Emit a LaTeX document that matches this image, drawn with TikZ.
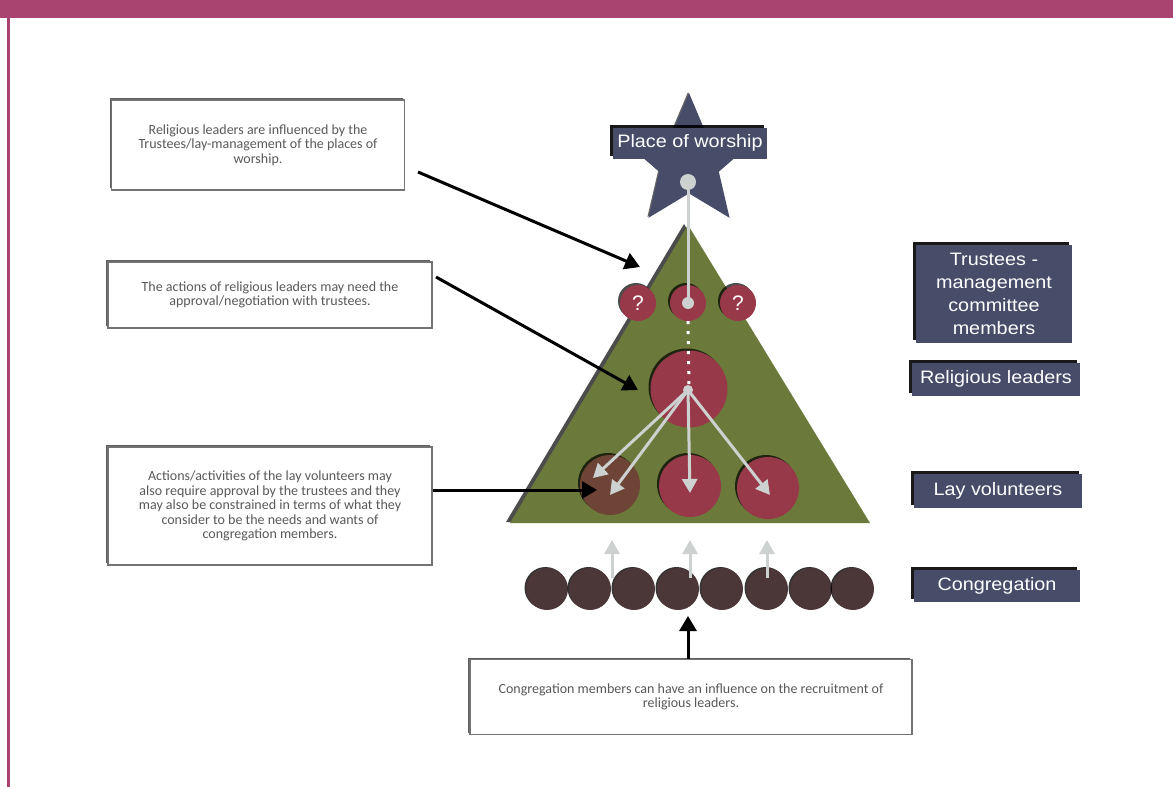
\documentclass[tikz,border=0pt]{standalone}
\usepackage{fontspec}
\setmainfont{Liberation Sans}
\newfontfamily\notefont{Carlito}
\newfontfamily\tagfont[FakeStretch=1.1]{Liberation Sans}
\usepackage{tikz}
\usetikzlibrary{shapes.geometric}
\usetikzlibrary{shadows}
\usetikzlibrary{arrows.meta}
\definecolor{barpink}{HTML}{A8446F}
\definecolor{slate}{HTML}{474D69}
\definecolor{pyramid}{HTML}{6B7A3A}
\definecolor{wine}{HTML}{98394A}
\definecolor{crowd}{HTML}{4B3638}
\definecolor{rust}{HTML}{6E4436}
\definecolor{pale}{HTML}{CDD1D0}

\tikzset{
	notebox/.style={draw=black!55, line width=1.5pt, fill=white, text=black!65, align=center, inner sep=0pt,
		font=\notefont\fontsize{14}{14.5}\selectfont,
		drop shadow={shadow xshift=-2pt, shadow yshift=2pt, opacity=.9, fill=black!70}},
	tag/.style={fill=slate, text=white, align=center, inner sep=0pt, font=\tagfont\fontsize{18}{23}\selectfont,
		drop shadow={shadow xshift=-3pt, shadow yshift=3pt, opacity=.9, fill=black}},
	member/.style={circle, fill=crowd, minimum size=42pt, inner sep=0pt,
		drop shadow={shadow xshift=-1.5pt, shadow yshift=1pt, opacity=.8, fill=black}},
	leader/.style={circle, fill=wine, inner sep=0pt, text=white, font=\fontsize{21}{21}\selectfont,
		drop shadow={shadow xshift=-2pt, shadow yshift=2pt, opacity=.7, fill=black}},
	pointer/.style={-{Triangle[width=17pt,length=15pt]}, line width=3pt, black},
	flow/.style={-{Triangle[width=15pt,length=14pt]}, line width=3pt, pale},
}

\begin{document}
\begin{tikzpicture}[x=1pt,y=-1pt]
	\useasboundingbox (0,0) rectangle (1173,787);
	\fill[barpink] (0,0) rectangle (1173,18);
	\fill[barpink] (7,18) rectangle (10,787);

	\fill[pyramid, drop shadow={shadow xshift=-4pt, shadow yshift=1pt, opacity=.7, fill=black}] (688,225) -- (510,523) -- (870,523) -- cycle;
	\node[star, star points=5, star point ratio=2.2, minimum size=138pt, inner sep=0pt, fill=slate,
		drop shadow={shadow xshift=-1pt, shadow yshift=1pt, opacity=.6, fill=black}] (place) at (689,162) {};
	\node[tag, minimum width=154pt, minimum height=31pt] (placetag) at (690,143) {Place of worship};

	\node[leader, minimum size=36pt] (q1) at (638,303) {?};
	\node[leader, minimum size=36pt] (q2) at (688,303) {};
	\node[leader, minimum size=36pt] (q3) at (738,303) {?};
	\node[leader, minimum size=77pt] (rl) at (689,389) {};
	\node[leader, minimum size=60pt, fill=rust] (l1) at (610,485) {};
	\node[leader, minimum size=62pt] (l2) at (690,486) {};
	\node[leader, minimum size=62pt] (l3) at (768,488) {};

	\node[circle, fill=pale, minimum size=16pt, inner sep=0pt] (dot) at (688,182) {};
	\draw[line width=3pt, pale] (dot) -- (q2.center);
	\fill[pale] (q2.center) circle (6);
	\draw[white, line width=3pt, dash pattern=on 3pt off 7pt] (q2.south) -- (rl.center);

	\coordinate (hub) at (688,390);
	\coordinate (t1) at (593,478);
	\coordinate (t2) at (610,495);
	\coordinate (t3) at (690,493);
	\coordinate (t4) at (770,495);
	\fill[pale] (hub) circle (5);
	\draw[flow] (hub) -- (t1);
	\draw[flow] (hub) -- (t2);
	\draw[flow] (hub) -- (t3);
	\draw[flow] (hub) -- (t4);

	\foreach \n/\x in {1/547,2/590,3/634,4/678,5/722,6/767,7/811,8/853}
		\node[member] (c\n) at (\x,589) {};

	\foreach \n/\x in {1/612,2/690,3/767} {
		\coordinate (u\n) at (\x,578);
		\coordinate (v\n) at (\x,540);
		\draw[flow] (u\n) -- (v\n);
	}

	\node[notebox, minimum width=293pt, minimum height=90pt] (box1) at (258,145)
		{Religious leaders are influenced by the\\Trustees/lay-management of the places of\\worship.};
	\node[notebox, minimum width=324pt, minimum height=66pt] (box2) at (270,295)
		{The actions of religious leaders may need the\\approval/negotiation with trustees.};
	\node[notebox, minimum width=324pt, minimum height=118pt] (box3) at (270,506)
		{Actions/activities of the lay volunteers may\\also require approval by the trustees and they\\may also be constrained in terms of what they\\consider to be the needs and wants of\\congregation members.};
	\node[notebox, minimum width=442pt, minimum height=75pt] (box4) at (691,697)
		{Congregation members can have an influence on the recruitment of\\religious leaders.};

	\node[tag, minimum width=156pt, minimum height=98pt] (trustees) at (994,294) {Trustees -\\management\\committee\\members};
	\node[tag, minimum width=168pt, minimum height=33pt] (religious) at (996,379) {Religious leaders};
	\node[tag, minimum width=168pt, minimum height=34pt] (lay) at (998,491) {Lay volunteers};
	\node[tag, minimum width=166pt, minimum height=32pt] (congregation) at (997,586) {Congregation};

	\coordinate (s1) at (418,172);
	\coordinate (e1) at (640,267);
	\coordinate (s2) at (436,277);
	\coordinate (e2) at (638,390);
	\coordinate (e3) at (597,490);
	\coordinate (e4) at (688,616);
	\draw[pointer] (s1) -- (e1);
	\draw[pointer] (s2) -- (e2);
	\draw[pointer] (box3.east |- e3) -- (e3);
	\draw[pointer] (box4.north -| e4) -- (e4);
\end{tikzpicture}
\end{document}
